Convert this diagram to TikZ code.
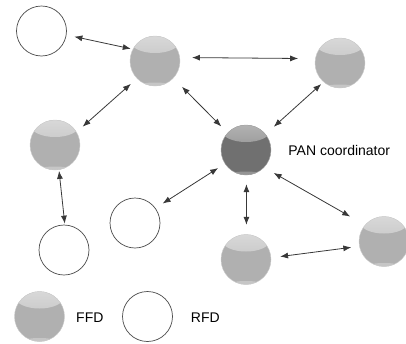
\documentclass[tikz,border=0pt]{standalone}
\usepackage{fontspec}
\setmainfont{Liberation Sans}
\usetikzlibrary{arrows.meta}

\begin{document}
\begin{tikzpicture}
    [x=1pt,y=-1pt,font=\fontsize{14pt}{16pt}\selectfont,
     ffd/.style={circle,minimum size=50pt,inner sep=0pt,draw=gray!40,fill=gray!62,
         path picture={
             \shade [top color=gray!28,bottom color=gray!57]
                 ([yshift=19pt]path picture bounding box.center) ellipse (24pt and 11pt);
             \fill [gray!45]
                 ([yshift=-24.5pt]path picture bounding box.center) ellipse (16pt and 3pt);}},
     pan/.style={ffd,draw=gray!70,fill=black!56,
         path picture={
             \shade [top color=black!28,bottom color=black!52]
                 ([yshift=19pt]path picture bounding box.center) ellipse (24pt and 11pt);
             \fill [black!42]
                 ([yshift=-24.5pt]path picture bounding box.center) ellipse (16pt and 3pt);}},
     rfd/.style={circle,minimum size=50pt,inner sep=0pt,draw=black!70,line width=0.7pt,fill=white},
     link/.style={{Latex[length=8pt,width=6pt]}-{Latex[length=8pt,width=6pt]},
         draw=black!78,line width=0.8pt}]
\useasboundingbox (0,0) rectangle (406,343);
\path
    (41.5,31) node [rfd] (rfd1) {}
    (155,61) node [ffd] (ffd1) {}
    (340,63) node [ffd] (ffd2) {}
    (55,145) node [ffd] (ffd3) {}
    (246,150) node [pan] (coord) {}
    (135,223) node [rfd] (rfd2) {}
    (64,250) node [rfd] (rfd3) {}
    (246,259.5) node [ffd] (ffd4) {}
    (384,241.5) node [ffd] (ffd5) {};
\path
    (coord.east) +(17,0.5) node [anchor=west,inner sep=0pt] (coordlabel) {PAN coordinator};
% legend
\path
    (39.5,316.5) node [ffd] (keyffd) {}
    (147.5,316.5) node [rfd] (keyrfd) {}
    (76,317.5) node [anchor=west,inner sep=0pt] (keyffdtext) {FFD}
    (190.7,317.5) node [anchor=west,inner sep=0pt] (keyrfdtext) {RFD};
% links
\draw [link,shorten <=8pt,shorten >=2pt] (rfd1.-9) -- (ffd1.152);
\draw [link,shorten <=12pt,shorten >=17pt] (ffd1.8) -- (ffd2.170);
\draw [link,shorten <=8pt,shorten >=8pt] (ffd1.-136) -- (ffd3.31);
\draw [link,shorten <=12pt,shorten >=9pt] (ffd1.-43) -- (coord.137);
\draw [link,shorten <=3pt,shorten >=11pt] (ffd2.-131) -- (coord.39);
\draw [link,shorten <=1pt,shorten >=1pt] (ffd3.-81) -- (rfd3.88);
\draw [link,shorten <=8pt,shorten >=8.5pt] (coord.-147) -- (rfd2.36);
\draw [link,shorten <=9pt,shorten >=9.5pt] (coord.-89) -- (ffd4.89);
\draw [link,shorten <=11pt,shorten >=17pt] (coord.-44) -- (ffd5.139);
\draw [link,shorten <=9pt,shorten >=8pt] (ffd4.4) -- (ffd5.191);
\end{tikzpicture}
\end{document}
